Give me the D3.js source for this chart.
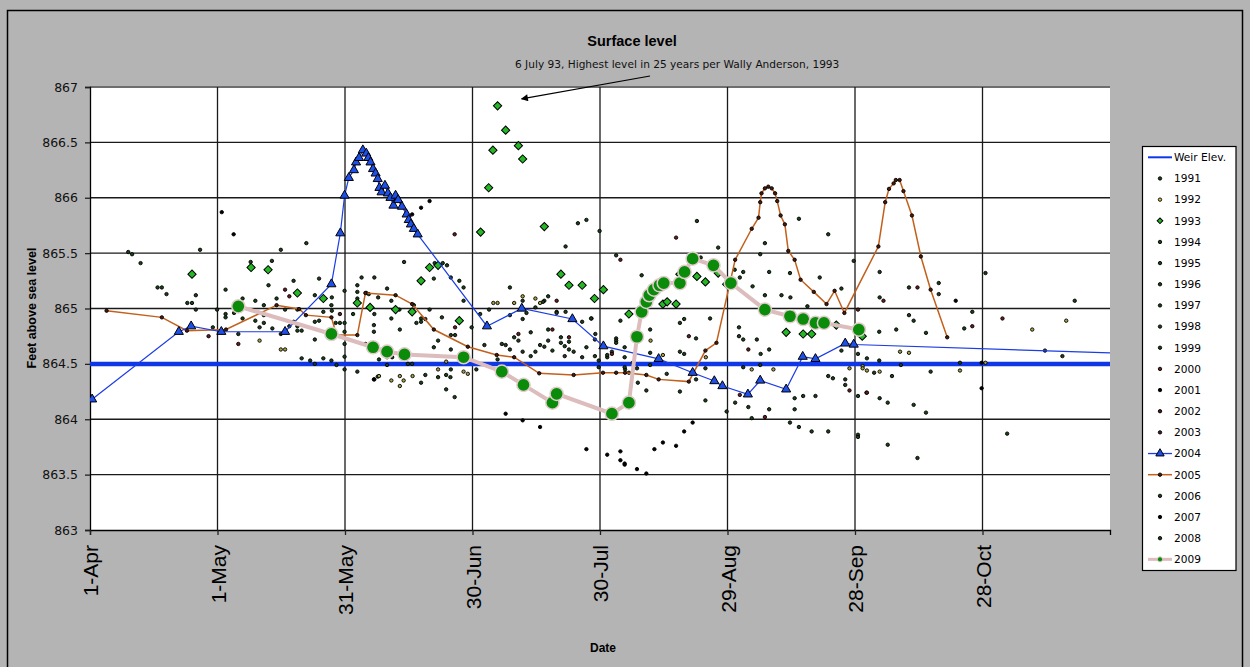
<!DOCTYPE html>
<html>
<head>
<meta charset="utf-8">
<script src="https://cdn.jsdelivr.net/npm/d3@7"></script>
<style>
  body { margin: 0; background: #b4b4b4; }
  svg { display: block; }
</style>
</head>
<body>
<svg id="chart" width="1250" height="667"></svg>
<script>
// days are counted from 1-Apr
const startDate = new Date(2009, 3, 1)
const lastDay = 240
const tickDays = [0, 30, 60, 90, 120, 150, 180, 210]
const yTicks = [863, 863.5, 864, 864.5, 865, 865.5, 866, 866.5, 867]
const weirElev = 864.5
const legendNames = ["Weir Elev.", "1991", "1992", "1993", "1994", "1995", "1996", "1997", "1998", "1999",
  "2000", "2001", "2002", "2003", "2004", "2005", "2006", "2007", "2008", "2009"]

const year2004 = [[0.5,864.18],[20.9,864.79],[23.8,864.84],[30.9,864.79],[45.9,864.79],[56.8,865.22],[58.9,865.68],
  [59.9,866.02],[60.9,866.18],[62.1,866.25],[62.6,866.32],[63.3,866.36],[64.2,866.43],[65.0,866.40],[65.5,866.36],
  [66.0,866.32],[66.6,866.26],[67.2,866.22],[67.7,866.17],[68.1,866.09],[68.6,866.05],[69.4,866.11],[70.1,866.04],
  [70.7,866.0],[71.4,865.93],[71.9,866.02],[72.5,865.98],[73.4,865.92],[74.5,865.85],[75.0,865.80],[75.5,865.76],
  [76.2,865.72],[77.1,865.67],[93.4,864.84],[101.6,865.0],[113.5,864.905],[120.8,864.66],[133.8,864.545],
  [141.8,864.42],[146.9,864.345],[148.8,864.3],[154.8,864.225],[157.7,864.35],[163.8,864.27],[167.7,864.565],
  [170.7,864.545],[177.7,864.685],[179.7,864.675],[255,864.58]]

const year2005 = [[3.9,864.98],[16.9,864.92],[22.8,864.8],[32,864.81],[43.9,865.03],[49.2,864.995],[50.8,864.94],
  [56.8,864.92],[58.0,864.76],[62.9,864.76],[64.8,865.14],[71.9,865.12],[75.8,865.04],[80.9,864.81],[88.9,864.655],
  [95.7,864.58],[99.8,864.56],[105.7,864.415],[113.8,864.4],[120.7,864.42],[123.8,864.42],[125.9,864.42],
  [130.9,864.4],[133.8,864.36],[140.9,864.34],[144.8,864.62],[147.4,864.69],[151.8,865.44],[155.7,865.72],
  [157.3,865.82],[157.7,865.96],[158,866.04],[158.8,866.085],[159.6,866.1],[160.4,866.085],[161.2,866.04],
  [161.7,865.97],[162.5,865.84],[163.5,865.76],[164.3,865.52],[165.8,865.44],[167.2,865.26],[170.3,865.15],
  [173.3,865.04],[175.2,865.16],[177.5,864.96],[185.5,865.56],[187.1,865.96],[188.0,866.08],[189.1,866.13],
  [189.6,866.16],[190.5,866.16],[191.4,866.06],[193.4,865.84],[195.5,865.47],[197.8,865.17],[201.7,864.74]]

const year2009 = [[34.9,865.02],[56.8,864.77],[66.6,864.65],[69.9,864.61],[74,864.585],[87.9,864.56],[96.9,864.43],
  [102,864.31],[108.8,864.15],[109.8,864.23],[122.8,864.05],[126.8,864.15],[128.7,864.745],[129.8,864.97],
  [130.9,865.06],[131.6,865.12],[132.7,865.17],[134.0,865.21],[135.0,865.23],[138.8,865.23],[139.9,865.33],
  [141.8,865.45],[146.7,865.39],[150.8,865.23],[158.8,864.99],[164.7,864.93],[167.8,864.905],[170.7,864.87],
  [172.7,864.87],[180.9,864.81]]

const year1993 = [[24,865.31],[37.9,865.37],[41.9,865.35],[48.8,865.14],[54.9,865.09],[62.9,865.05],[65.9,865.01],
  [71.9,864.99],[75.8,864.97],[77.9,865.25],[79.9,865.37],[81.9,865.39],[86.9,864.89],[91.9,865.69],[93.8,866.09],
  [94.8,866.43],[95.9,866.83],[97.8,866.61],[100.8,866.47],[101.8,866.35],[106.9,865.74],[110.8,865.31],
  [112.7,865.21],[115.8,865.21],[118.7,865.09],[120.8,865.17],[126.8,864.95],[130.9,865.04],[134.8,865.04],
  [135.8,865.06],[137.9,865.04],[138.8,865.31],[142.8,865.29],[144.8,865.24],[147.8,865.32],[149.8,865.22],
  [163.8,864.785],[167.8,864.77],[169.8,864.77],[175.6,864.85],[181.7,864.75]]

// 1991, 1994-1999, 2006, 2008
const dotsGreen = [[9.0,865.51],[9.9,865.49],[11.9,865.41],[25.9,865.53],[44.9,865.53],[50.9,865.59],[42.8,865.43],
  [37.8,865.42],[15.9,865.19],[16.9,865.19],[18.0,865.13],[24.9,865.12],[22.9,865.05],[24.0,865.05],[24.9,864.99],
  [29.9,864.99],[31.9,865.17],[31.9,864.95],[31.9,864.92],[33.9,864.96],[35.9,865.09],[35.9,864.91],[38.9,865.07],
  [38.9,864.89],[40.9,865.03],[40.9,864.94],[42.0,865.21],[43.9,865.09],[45.9,864.99],[47.9,865.25],[48.8,864.99],
  [52.9,865.12],[53.9,865.27],[53.9,864.89],[52.9,864.88],[54.9,864.97],[56.9,865.10],[56.9,864.98],[59.9,865.16],
  [62.9,865.21],[62.9,865.15],[63.9,865.28],[65.0,865.14],[66.9,865.28],[66.9,864.95],[61.9,864.95],
  [28.9,864.83],[34.9,864.77],[39.9,864.83],[40.9,864.87],[42.9,864.82],[44.9,864.77],[46.9,864.84],[47.9,864.88],
  [48.8,864.84],[48.8,864.80],[49.8,864.80],[52.9,864.72],[56.8,865.03],[57.8,864.87],[58.8,864.87],[59.9,864.87],
  [59.9,864.68],[59.9,864.565],[59.9,864.45],[56.8,864.53],[54.9,864.55],[51.8,864.53],[52.9,864.5],[49.8,864.55],
  [62.9,864.43],[67.7,864.385],[64.8,864.68],[66.8,864.85],[66.8,864.79],[62.9,865.09],[62.9,865.05],[65.6,865.13],
  [73.9,865.42],[81.1,865.41],[83.0,865.41],[84.0,865.39],[80.9,865.27],[69.9,865.18],[67.8,865.10],
  [70.9,865.07],[72.8,864.99],[76.2,865.03],[79.9,864.99],[82.8,864.92],[84.9,865.28],[86.9,865.25],[87.9,865.19],
  [87.9,865.07],[89.8,864.83],[91.8,864.95],[93.9,864.99],[98.8,865.19],[101.8,865.07],[98.8,864.94],[101.8,864.905],
  [104.8,865.01],[106.9,865.07],[107.8,865.11],[109.8,864.97],[111.9,864.97],[111.9,865.56],[114.8,865.77],
  [116.8,865.80],[119.9,865.70],[123.8,865.48],[115.8,864.88],[118.0,864.91],[124.8,864.89],
  [59.9,864.79],[58.0,864.49],[68.0,864.54],[69.9,864.56],[69.9,864.49],[71.1,864.56],[72.9,864.81],[70.9,864.91],
  [74.8,864.5],[75.8,864.5],[76.8,864.87],[77.9,864.91],[77.9,864.88],[78.9,864.905],[78.9,864.4],[77.9,864.33],
  [80.9,864.65],[81.9,864.71],[81.9,864.38],[83.8,864.4],[83.8,864.27],[84.8,864.38],[85.8,864.2],[84.9,864.45],
  [84.9,864.63],[84.9,864.76],[85.9,864.76],[90.9,864.45],[92.8,864.67],[95.9,864.54],[96.9,864.68],[97.8,864.67],
  [98.8,864.63],[99.8,864.74],[100.8,864.71],[101.8,864.61],[103.7,864.785],[103.7,864.57],[104.8,864.61],
  [105.9,864.67],[106.9,864.655],[107.8,864.81],[107.8,864.71],[108.8,864.62],[110.8,864.74],[110.8,864.69],
  [111.7,864.66],[111.7,864.57],[112.7,864.70],[112.7,864.63],[113.8,864.61],[115.8,864.56],[116.8,864.65],
  [118.8,864.72],[118.8,864.57],[119.7,864.53],[119.7,864.47],[121.7,864.56],[122.8,864.61],[123.8,864.73],
  [123.8,864.71],[125.9,864.45],[109.8,864.96],[106.6,865.06],[102.7,864.96],
  [129.8,865.30],[142.8,865.79],[147.8,865.55],[157.7,865.49],[158.8,865.59],[166.8,865.81],[173.7,865.67],
  [179.7,865.43],[143.7,865.46],[151.7,865.35],[152.9,865.28],[153.7,865.33],[159.8,865.33],[164.7,865.32],
  [171.7,865.28],[155.9,865.2],[158.8,865.12],[162.7,865.12],[164.8,865.10],[168.8,865.02],[176.8,865.18],
  [185.8,865.10],[185.8,865.33],[117.9,864.91],[131.8,864.81],[139.8,864.905],[138.8,864.87],[142.6,864.73],
  [145.9,864.91],[152.7,864.83],[152.7,864.75],[153.7,864.72],[156.9,864.72],[157.8,864.59],[159.8,864.63],
  [157.7,864.49],[153.7,864.47],[173.7,864.39],[174.8,864.37],[177.7,864.36],[177.7,864.31],[182.7,864.24],
  [185.8,864.19],[180.7,864.21],[170.7,864.21],[167.8,864.21],[165.8,864.19],[165.8,864.09],[164.7,863.97],
  [166.8,863.93],[169.8,863.89],[173.7,863.89],[180.7,863.86],[180.7,863.84],[159.8,864.09],[155.7,864.01],
  [154.9,864.11],[151.8,864.15],[149.8,864.07],[144.8,864.17],[130.9,864.26],[128.9,864.33],[128.7,864.46],
  [126.8,864.42],[125.8,864.47],[118.9,864.77],[121.7,864.58],[123.8,864.69],[125.8,864.65],[125.8,864.56],
  [127.7,864.51],[131.8,864.6],[131.8,864.49],[135.7,864.41],[138.8,864.61],[139.8,864.59],[138.8,864.25],
  [142.6,864.36],[144.8,864.46],
  [192.7,865.19],[199.7,865.23],[199.7,865.13],[210.7,865.32],[207.6,864.97],[205.7,864.82],[231.7,865.07],
  [192.7,864.94],[193.8,864.89],[196.7,864.78],[189.7,864.81],[185.7,864.79],[180.7,864.59],[182.8,864.55],
  [184.5,864.42],[185.7,864.53],[190.8,864.49],[176.8,864.62],[187.7,864.15],[188.7,864.39],[193.8,864.13],
  [196.7,864.06],[197.8,864.43],[204.7,864.51],[224.7,864.62],[228.8,864.57],[187.7,863.77],[194.7,863.65],
  [215.8,863.87]]

// 1992
const dotsYellow = [[94.9,865.05],[95.9,865.05],[101.8,865.11],[99.8,865.05],[104.8,865.09],[105.9,865.05],
  [72.9,864.39],[73.8,864.35],[70.9,864.35],[68.0,864.39],[66.9,864.36],[72.9,864.3],[75.9,864.39],[81.9,864.45],
  [83.8,864.52],[87.9,864.43],[88.9,864.41],[39.9,864.71],[44.9,864.63],[45.9,864.63],[160.8,864.45],
  [155.7,864.45],[131.9,864.71],[134.8,864.58],[144.9,864.56],[221.7,864.81],[229.7,864.89],[181.8,864.48],
  [181.8,864.46],[182.8,864.44],[185.8,864.43],[190.6,864.61],[192.7,864.6],[178.7,864.46],[204.7,864.44],
  [210.7,864.51]]

// 2000, 2002, 2003
const dotsRed = [[85.8,865.67],[85.9,864.83],[109.8,865.07],[124.8,865.44],[58.8,864.95],[100.8,864.77],
  [108.8,864.81],[112.7,864.74],[137.9,865.64],[154.9,864.63],[178.7,864.26],[158.8,864.02],[152.9,864.22],
  [148.8,864.3],[140.9,864.75],[122.8,864.59],[186.7,865.07],[194.7,865.19],[207.6,864.84],[214.7,864.91],
  [180.7,864.99],[182.8,864.24],[27.9,864.75],[34.9,864.68],[45.9,865.17],[46.9,865.11]]

// 2001, 2007
const dotsBlack = [[31.0,865.87],[33.8,865.67],[79.9,865.97],[77.9,865.91],[75.8,865.85],[97.8,864.05],
  [101.8,863.99],[105.9,863.93],[116.8,863.73],[121.7,863.68],[124.8,863.63],[125.8,863.60],[139.8,863.89],
  [141.8,863.97],[137.9,863.76],[134.8,863.79],[132.8,863.73],[124.8,863.71],[125.8,863.59],[128.7,863.55],
  [130.9,863.51],[203.7,865.07],[209.8,864.51],[209.8,864.28],[66.8,864.36]]

const toDate = d => d3.timeDay.offset(startDate, Math.floor(d)).getTime() + (d % 1) * 864e5

const svg = d3.select("#chart")
const plotLeft = 90, plotRight = 1110, plotTop = 87, plotBottom = 530

const x = d3.scaleTime().domain([startDate, d3.timeDay.offset(startDate, lastDay)]).range([plotLeft, plotRight])
const y = d3.scaleLinear().domain([863, 867]).range([plotBottom, plotTop])
const px = d => x(toDate(d[0]))
const py = d => y(d[1])

// chart area border
svg.append("rect").attr("x", 7.5).attr("y", 10.5).attr("width", 1235).attr("height", 680)
  .attr("fill", "#b4b4b4").attr("stroke", "#000").attr("stroke-width", 1.5)

svg.append("rect").attr("x", plotLeft).attr("y", plotTop)
  .attr("width", plotRight - plotLeft).attr("height", plotBottom - plotTop)
  .attr("fill", "#fff")

svg.append("defs").append("clipPath").attr("id", "plotClip")
  .append("rect").attr("x", plotLeft).attr("y", plotTop - 10)
  .attr("width", plotRight - plotLeft).attr("height", plotBottom - plotTop + 10)

// grid
svg.append("g").selectAll("line").data(yTicks.slice(1)).join("line")
  .attr("x1", plotLeft).attr("x2", plotRight).attr("y1", d => y(d)).attr("y2", d => y(d))
  .attr("stroke", d => d == 867 ? "#6e6e6e" : "#1a1a1a").attr("stroke-width", d => d == 867 ? 2.2 : 1.3)
svg.append("g").selectAll("line").data(tickDays.slice(1)).join("line")
  .attr("x1", d => x(toDate(d))).attr("x2", d => x(toDate(d))).attr("y1", plotTop).attr("y2", plotBottom)
  .attr("stroke", "#1a1a1a").attr("stroke-width", 1.3)

// axes
const yAxis = svg.append("g").attr("transform", `translate(${plotLeft},0)`)
  .call(d3.axisLeft(y).tickValues(yTicks).tickSize(5).tickPadding(7).tickFormat(d3.format("")))
yAxis.select(".domain").attr("stroke", "#000").attr("stroke-width", 1.3)
yAxis.selectAll(".tick line").attr("stroke", "#222").attr("stroke-width", 1.3)
yAxis.selectAll("text").attr("font-family", "DejaVu Sans").attr("font-size", 12.5).attr("fill", "#111")

const xAxis = svg.append("g").attr("transform", `translate(0,${plotBottom})`)
  .call(d3.axisBottom(x).tickValues(tickDays.map(toDate)).tickSize(5).tickFormat(d3.timeFormat("%-d-%b")))
xAxis.select(".domain").attr("stroke", "#000").attr("stroke-width", 1.3)
xAxis.selectAll(".tick line").attr("stroke", "#222").attr("stroke-width", 1.3)
xAxis.selectAll("text")
  .attr("transform", "rotate(-90)").attr("x", -15).attr("y", 0).attr("dy", "0.36em")
  .style("text-anchor", "end").attr("font-family", "Liberation Sans").attr("font-size", 21).attr("fill", "#000")

// weir elevation
svg.append("line").attr("x1", plotLeft).attr("x2", plotRight).attr("y1", y(weirElev)).attr("y2", y(weirElev))
  .attr("stroke", "#0f37e6").attr("stroke-width", 4.5)

const plot = svg.append("g").attr("clip-path", "url(#plotClip)")
const line = d3.line().x(px).y(py)

function dots(data, fill) {
  plot.append("g").selectAll("circle").data(data).join("circle")
    .attr("cx", px).attr("cy", py).attr("r", 1.7)
    .attr("fill", fill).attr("stroke", "#000").attr("stroke-width", 0.9)
}
dots(dotsGreen, "#1a401a")
dots(dotsYellow, "#a8a040")
dots(dotsRed, "#6a1c1c")
dots(dotsBlack, "#000")

// 1993
plot.append("g").selectAll("path").data(year1993).join("path")
  .attr("d", d3.symbol(d3.symbolSquare, 34))
  .attr("transform", d => `translate(${px(d)},${py(d)}) rotate(45)`)
  .attr("fill", "#25b825").attr("stroke", "#000").attr("stroke-width", 1)

// 2005
plot.append("path").datum(year2005).attr("d", line).attr("fill", "none")
  .attr("stroke", "#c2601c").attr("stroke-width", 1.5)
dots(year2005, "#4a1a0a")

// 2004
plot.append("path").datum(year2004).attr("d", line).attr("fill", "none")
  .attr("stroke", "#1c3de6").attr("stroke-width", 1.2)
plot.append("g").selectAll("path").data(year2004).join("path")
  .attr("d", d3.symbol(d3.symbolTriangle, 36))
  .attr("transform", d => `translate(${px(d)},${py(d)})`)
  .attr("fill", "#1e4fe8").attr("stroke", "#000").attr("stroke-width", 1)

// 2009
plot.append("path").datum(year2009).attr("d", line).attr("fill", "none")
  .attr("stroke", "#dcbcbc").attr("stroke-width", 4)
plot.append("g").selectAll("circle").data(year2009).join("circle")
  .attr("cx", px).attr("cy", py).attr("r", 6.6)
  .attr("fill", "#0a8c0a").attr("stroke", "#e2cccc").attr("stroke-width", 1.5)

// titles
svg.append("text").attr("x", 632).attr("y", 46).attr("text-anchor", "middle")
  .attr("font-family", "Liberation Sans").attr("font-weight", "bold").attr("font-size", 14.5)
  .text("Surface level")
svg.append("text").attr("x", 603).attr("y", 652).attr("text-anchor", "middle")
  .attr("font-family", "Liberation Sans").attr("font-weight", "bold").attr("font-size", 12)
  .text("Date")
svg.append("text").attr("transform", "translate(36,308) rotate(-90)").attr("text-anchor", "middle")
  .attr("font-family", "Liberation Sans").attr("font-weight", "bold").attr("font-size", 12.5)
  .text("Feet above sea level")

// annotation for the 1993 peak
const peak = year1993.reduce((a, b) => b[1] > a[1] ? b : a)
svg.append("text").attr("x", 515).attr("y", 68)
  .attr("font-family", "DejaVu Sans").attr("font-size", 10.6).attr("fill", "#111")
  .text("6 July 93, Highest level in 25 years per Wally Anderson, 1993")
svg.append("defs").append("marker").attr("id", "arrow").attr("viewBox", "0 0 10 10")
  .attr("refX", 9).attr("refY", 5).attr("markerWidth", 10).attr("markerHeight", 7)
  .attr("markerUnits", "userSpaceOnUse").attr("orient", "auto")
  .append("path").attr("d", "M0,0L10,5L0,10z").attr("fill", "#000")
svg.append("line").attr("x1", 650).attr("y1", 76).attr("x2", px(peak) + 24).attr("y2", py(peak) - 7)
  .attr("stroke", "#000").attr("stroke-width", 1.2).attr("marker-end", "url(#arrow)")

// legend
const lg = svg.append("g")
lg.append("rect").attr("x", 1142.5).attr("y", 146.5).attr("width", 93.5).attr("height", 424)
  .attr("fill", "#fff").attr("stroke", "#000").attr("stroke-width", 1.2)
const dotFill = {"1992": "#c8c030", "2000": "#6a1c1c", "2002": "#4a1a1a", "2003": "#4a1a1a", "2001": "#000", "2007": "#000"}
const item = lg.selectAll("g").data(legendNames).join("g")
  .attr("transform", (d, i) => `translate(0,${157.3 + i * 21.16})`)
item.append("text").attr("x", 1174).attr("dy", "0.36em")
  .attr("font-family", "DejaVu Sans").attr("font-size", 10.6).attr("fill", "#000").text(d => d)
item.each(function (d) {
  const g = d3.select(this)
  if (d == "Weir Elev.") {
    g.append("line").attr("x1", 1148).attr("x2", 1172).attr("stroke", "#0f37e6").attr("stroke-width", 2)
  } else if (d == "1993") {
    g.append("path").attr("d", d3.symbol(d3.symbolSquare, 16)).attr("transform", "translate(1160,0) rotate(45)")
      .attr("fill", "#25b825").attr("stroke", "#000")
  } else if (d == "2004") {
    g.append("line").attr("x1", 1148).attr("x2", 1172).attr("stroke", "#1c3de6").attr("stroke-width", 1.3)
    g.append("path").attr("d", d3.symbol(d3.symbolTriangle, 30)).attr("transform", "translate(1160,0)")
      .attr("fill", "#1e4fe8").attr("stroke", "#000")
  } else if (d == "2005") {
    g.append("line").attr("x1", 1148).attr("x2", 1172).attr("stroke", "#c2601c").attr("stroke-width", 1.5)
    g.append("circle").attr("cx", 1160).attr("r", 1.7).attr("fill", "#4a1a0a").attr("stroke", "#000").attr("stroke-width", 0.9)
  } else if (d == "2009") {
    g.append("line").attr("x1", 1148).attr("x2", 1172).attr("stroke", "#dcbcbc").attr("stroke-width", 3)
    g.append("circle").attr("cx", 1160).attr("r", 2.6).attr("fill", "#0a8c0a").attr("stroke", "#e2cccc")
  } else {
    g.append("circle").attr("cx", 1160).attr("r", 1.7).attr("fill", dotFill[d] || "#1a401a")
      .attr("stroke", "#000").attr("stroke-width", 0.9)
  }
})
</script>
</body>
</html>
